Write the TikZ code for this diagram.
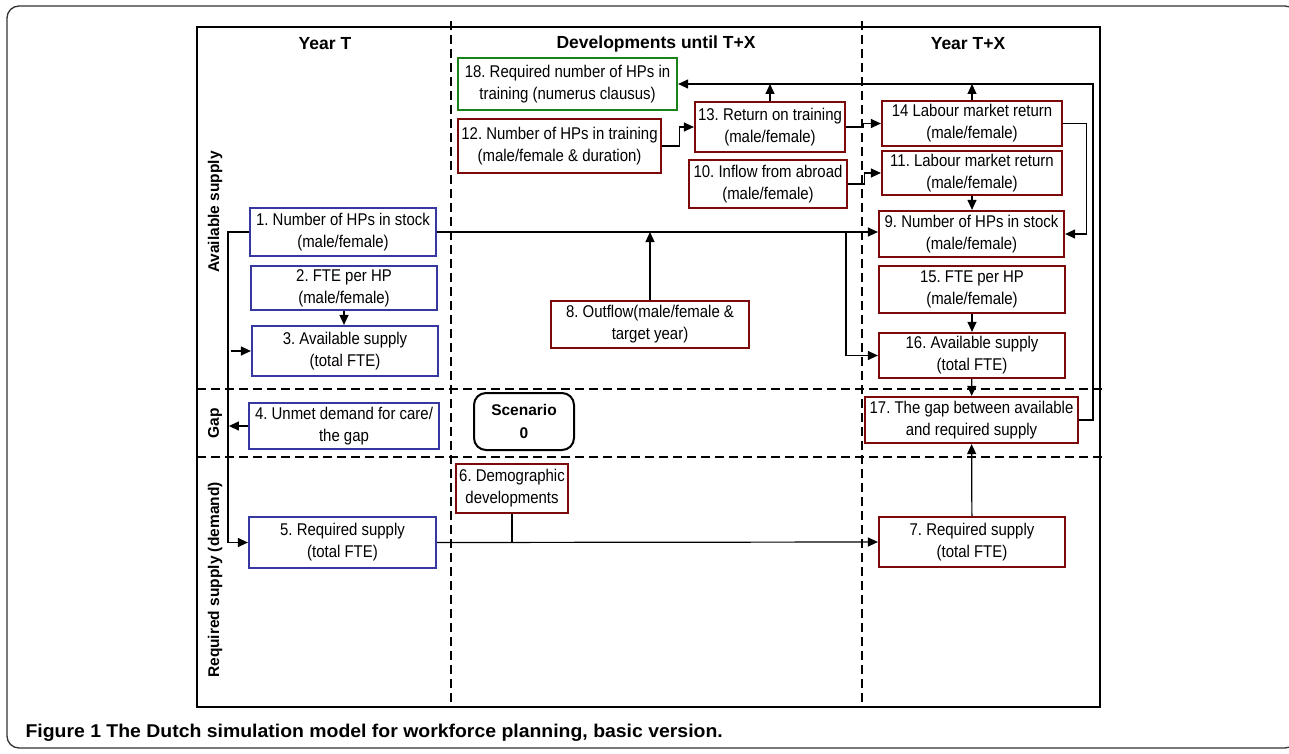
\documentclass[tikz,border=0pt]{standalone}
\usepackage{fontspec}
\setmainfont{Liberation Sans}[FakeStretch=0.88]
\newfontfamily\plainsans{Liberation Sans}
\newfontfamily\capfont{Liberation Sans}[FakeStretch=1.05]
\usetikzlibrary{arrows.meta}
\frenchspacing

\definecolor{hpblue}{RGB}{55,55,160}
\definecolor{hpred}{RGB}{125,10,10}
\definecolor{hpgreen}{RGB}{25,130,25}

\tikzset{
  box/.style={draw, line width=2.2pt, inner sep=0pt, align=center,
    font=\fontsize{17}{22}\selectfont},
  bluebox/.style={box, draw=hpblue},
  redbox/.style={box, draw=hpred},
  greenbox/.style={box, draw=hpgreen},
  scenbox/.style={draw, line width=2pt, rounded corners=12pt, inner sep=0pt,
    align=center, font=\plainsans\fontsize{15.5}{23}\selectfont\bfseries},
  head/.style={font=\plainsans\fontsize{17.5}{20}\selectfont\bfseries},
  sidelab/.style={rotate=90, font=\plainsans\fontsize{15.5}{18}\selectfont\bfseries},
  arr/.style={line width=1.2pt, -{Triangle[length=10pt,width=9pt]}},
  link/.style={line width=1.2pt},
  divider/.style={line width=1.3pt, dash pattern=on 9pt off 5pt},
}

\begin{document}
\begin{tikzpicture}[x=1pt,y=-1pt]
    \useasboundingbox (0,0) rectangle (1289,754);

    % outer frame and caption
    \draw[line width=1.3pt, black!80, rounded corners=12pt] (7,6) rectangle (1297,748);
    \node[anchor=west, font=\capfont\fontsize{18.5}{20}\selectfont\bfseries] (cap) at (22,733)
        {Figure 1 The Dutch simulation model for workforce planning, basic version.};

    % grid
    \draw[line width=1.5pt] (197,27) rectangle (1100,707);
    \draw[divider] (451,21) -- (451,707);
    \draw[divider] (862,21) -- (862,707);
    \draw[divider] (197,389) -- (1102,389);
    \draw[divider] (197,457) -- (1102,457);

    \node[head] (hT) at (325,44) {Year T};
    \node[head] (hDev) at (656,44) {Developments until T+X};
    \node[head] (hTX) at (968,44) {Year T+X};

    \node[sidelab] (sAv) at (215,212) {Available supply};
    \node[sidelab] (sGap) at (215,423) {Gap};
    \node[sidelab] (sReq) at (215,580) {Required supply (demand)};

    % year T
    \node[bluebox, minimum width=186pt, minimum height=48pt] (n1) at (343,232) {1. Number of HPs in stock\\(male/female)};
    \node[bluebox, minimum width=186pt, minimum height=44pt] (n2) at (344,288) {2. FTE per HP\\(male/female)};
    \node[bluebox, minimum width=186pt, minimum height=50pt] (n3) at (345,351) {3. Available supply\\(total FTE)};
    \node[bluebox, minimum width=190pt, minimum height=46pt] (n4) at (344,426) {4. Unmet demand for care/\\the gap};
    \node[bluebox, minimum width=187pt, minimum height=51pt] (n5) at (342.5,542.5) {5. Required supply\\(total FTE)};

    % developments
    \node[greenbox, minimum width=219pt, minimum height=52pt] (n18) at (567.5,84) {18. Required number of HPs in\\training (numerus clausus)};
    \node[redbox, minimum width=203pt, minimum height=54pt] (n12) at (559.5,146) {12. Number of HPs in training\\(male/female \& duration)};
    \node[redbox, minimum width=150pt, minimum height=50pt] (n13) at (770,127) {13. Return on training\\(male/female)};
    \node[redbox, minimum width=158pt, minimum height=48pt] (n10) at (768,184) {10. Inflow from abroad\\(male/female)};
    \node[redbox, minimum width=198pt, minimum height=47pt] (n8) at (650,324.5) {8. Outflow(male/female \&\\target year)};
    \node[scenbox, minimum width=100pt, minimum height=57pt] (scen) at (524,421.5) {Scenario\\0};
    \node[redbox, minimum width=112pt, minimum height=49pt] (n6) at (512,488.5) {6. Demographic\\developments};

    % year T+X
    \node[redbox, minimum width=180pt, minimum height=45pt] (n14) at (972,123.5) {14 Labour market return\\(male/female)};
    \node[redbox, minimum width=180pt, minimum height=44pt] (n11) at (972,173) {11. Labour market return\\(male/female)};
    \node[redbox, minimum width=185pt, minimum height=46pt] (n9) at (971.5,234) {9. Number of HPs in stock\\(male/female)};
    \node[redbox, minimum width=186pt, minimum height=47pt] (n15) at (972,289.5) {15. FTE per HP\\(male/female)};
    \node[redbox, minimum width=186pt, minimum height=45pt] (n16) at (972,355.5) {16. Available supply\\(total FTE)};
    \node[redbox, minimum width=213pt, minimum height=46pt] (n17) at (971.5,420) {17. The gap between available\\and required supply};
    \node[redbox, minimum width=186pt, minimum height=50pt] (n7) at (972,542) {7. Required supply\\(total FTE)};

    \coordinate (fb) at (1093,84);
    \coordinate (rbus) at (846,232);

    % left bus
    \draw[arr] (n1.west) -| ([xshift=-20pt]n5.west) -- (n5.west);
    \draw[arr] ([xshift=-20pt]n3.west) -- (n3.west);
    \draw[arr] (n4.west) -- ([xshift=-19pt]n4.west);
    \draw[arr] (n2.south) -- (n2.south |- n3.north);

    % stock and demand lines
    \draw[arr] (n1.east) -- (n1.east -| n9.west);
    \draw[arr] (rbus) |- (n16.west);
    \draw[arr] (n8.north) -- (n8.north |- n1.east);
    \draw[arr] (n5.east) -- (n7.west);
    \draw[link] (n6.south) -- (n6.south |- n5.east);

    % training and inflow
    \draw[arr] (n12.east) -- ++(17,0) |- (n13.west);
    \draw[arr] (n13.east) -- ++(17,0) |- (n14.west);
    \draw[arr] (n10.east) -- ++(16,0) |- (n11.west);
    \draw[arr] (n14.east) -- ++(23,0) |- (n9.east);
    \draw[arr] (n11.south) -- (n11.south |- n9.north);

    % feedback to numerus clausus
    \draw[arr] (n17.east) -| (fb) -- (n18.east |- fb);
    \draw[arr] (n13.north) -- (n13.north |- fb);
    \draw[arr] (n14.north) -- (n14.north |- fb);

    \draw[arr] (n15) -- (n16);
    \draw[arr] (n16) -- (n17);
    \draw[arr] (n7) -- (n17);
\end{tikzpicture}
\end{document}
